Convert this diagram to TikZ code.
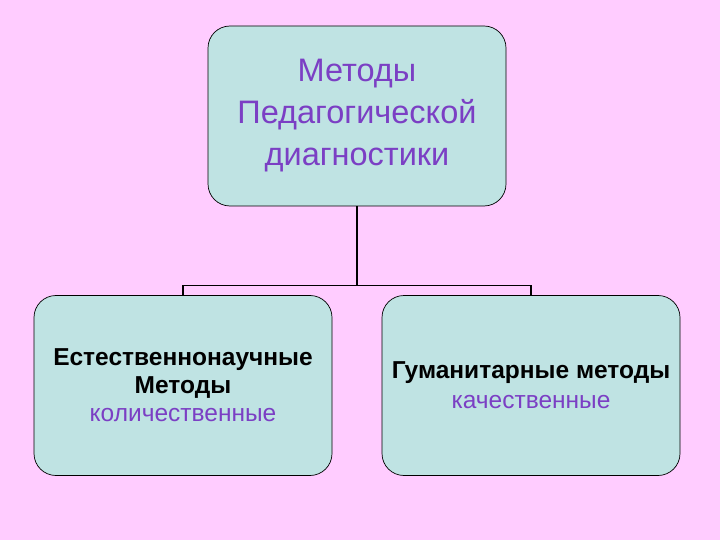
\documentclass[tikz,border=0pt]{standalone}
\usepackage{fontspec}
\setmainfont{Liberation Sans}
\definecolor{bg}{HTML}{FFCCFF}
\definecolor{boxfill}{HTML}{BFE3E3}
\definecolor{txt}{HTML}{7B3FC4}
\tikzset{box/.style={draw=black,line width=0.7pt,fill=boxfill,rounded corners=22pt,minimum width=298pt,minimum height=180pt,inner sep=0pt,align=center}}
\begin{document}
\begin{tikzpicture}[x=1pt,y=-1pt]
\fill[bg] (0,0) rectangle (720,540);
\useasboundingbox (0,0) rectangle (720,540);
\node[box,minimum height=180pt,text=txt,font=\fontsize{32.5}{42}\selectfont] (top) at (357,116) {Методы\\Педагогической\\диагностики};
\node[box,font=\fontsize{24.5}{28}\selectfont] (left) at (183,385.5) {\textbf{Естественнонаучные}\\\textbf{Методы}\\\textcolor{txt}{количественные}};
\node[box,font=\fontsize{24.5}{30}\selectfont] (right) at (531,385.5) {\textbf{Гуманитарные методы}\\\textcolor{txt}{качественные}};
\coordinate (j) at (357,286);
\draw[line width=1.3pt] (top.south) -- (j);
\draw[line width=1.3pt] (left.north) -- ++(0,-10) -| (right.north);
\end{tikzpicture}
\end{document}
